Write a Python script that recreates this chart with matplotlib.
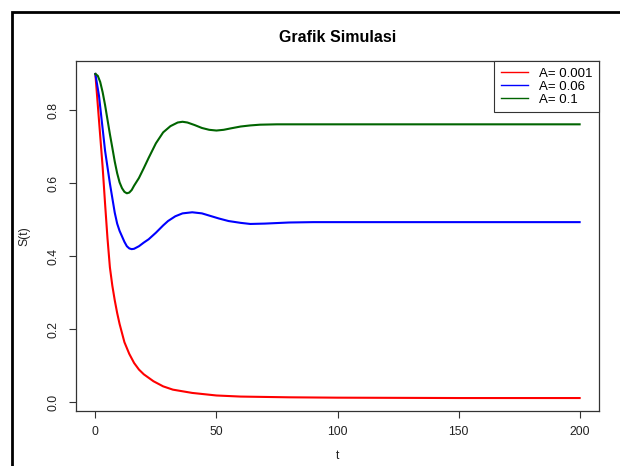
import numpy as np
import matplotlib
matplotlib.use("Agg")
import matplotlib.pyplot as plt
from matplotlib.patches import Rectangle

plt.rcParams['font.family'] = ['Liberation Sans', 'DejaVu Sans']

# values
t_red = [0, 1, 2, 3, 4, 5, 6, 7, 8, 9, 10, 12, 14, 16, 18, 20, 24, 28, 32,
         40, 50, 60, 80, 100, 150, 200]
s_red = [0.900, 0.815, 0.730, 0.645, 0.545, 0.450, 0.370, 0.320, 0.280, 0.245,
         0.215, 0.165, 0.133, 0.108, 0.090, 0.077, 0.058, 0.044, 0.035,
         0.026, 0.019, 0.016, 0.014, 0.013, 0.012, 0.012]

t_blue = [0, 1, 1.5, 2, 3, 4, 5, 6, 7, 8, 9, 10, 11, 12, 13, 14, 15, 16, 18,
          20, 22, 25, 28, 30, 33, 36, 40, 44, 48, 51, 55, 60, 64, 70, 80, 90,
          100, 150, 200]
s_blue = [0.900, 0.860, 0.840, 0.810, 0.750, 0.690, 0.645, 0.600, 0.560, 0.520,
          0.490, 0.470, 0.455, 0.440, 0.428, 0.422, 0.420, 0.421, 0.428,
          0.438, 0.447, 0.465, 0.485, 0.497, 0.510, 0.518, 0.521, 0.518, 0.510,
          0.504, 0.497, 0.492, 0.489, 0.490, 0.493, 0.494,
          0.494, 0.494, 0.494]

t_green = [0, 1, 2, 3, 4, 5, 6, 7, 8, 9, 10, 11, 12, 13, 14, 15, 16, 18, 20,
           22, 25, 28, 31, 34, 36, 38, 41, 44, 47, 50, 53, 56, 60, 64, 68, 75,
           90, 100, 150, 200]
s_green = [0.900, 0.895, 0.878, 0.850, 0.815, 0.775, 0.735, 0.698, 0.660, 0.628,
           0.603, 0.587, 0.577, 0.573, 0.575, 0.582, 0.594, 0.615, 0.642,
           0.670, 0.710, 0.740, 0.757, 0.767, 0.769, 0.767, 0.760, 0.752, 0.747,
           0.745, 0.747, 0.751, 0.756, 0.759, 0.761, 0.762,
           0.762, 0.762, 0.762, 0.762]

labels = ["A= 0.001", "A= 0.06", "A= 0.1"]
x_ticks = [0, 50, 100, 150, 200]
y_ticks = [0.0, 0.2, 0.4, 0.6, 0.8]

fig = plt.figure(figsize=(6.2, 4.66), dpi=100)
ax = fig.add_axes([76/620, 1 - 411/466, (599 - 76)/620, (411 - 61)/466])

ax.plot(t_red, s_red, color='#ff0000', lw=1.5, label=labels[0])
ax.plot(t_blue, s_blue, color='#0000ff', lw=1.5, label=labels[1])
ax.plot(t_green, s_green, color='#006400', lw=1.5, label=labels[2])

# R style 4% padding
ymin = min(s_red + s_blue + s_green)
ymax = max(s_red + s_blue + s_green)
pad = 0.04 * (ymax - ymin)
ax.set_xlim(-8, 208)
ax.set_ylim(ymin - pad, ymax + pad)

ax.set_xticks(x_ticks)
ax.set_xticklabels([str(v) for v in x_ticks])
ax.set_yticks(y_ticks)
ax.set_yticklabels(["%.1f" % v for v in y_ticks], rotation=90, va='center')
ax.tick_params(axis='both', direction='out', length=5, width=0.8,
               color='#333333', labelsize=8.7, labelcolor='#222222')
ax.tick_params(axis='x', pad=6)
ax.tick_params(axis='y', pad=7)
for sp in ax.spines.values():
    sp.set_color('#333333')
    sp.set_linewidth(0.9)

fig.text(0.5 * (76 + 599) / 620, 1 - 38/466, "Grafik Simulasi",
         ha='center', va='center', fontsize=11.5, fontweight='bold')
fig.text(0.5 * (76 + 599) / 620, 1 - 456/466, "t", ha='center', va='center',
         fontsize=8.7, color='#222222')
fig.text(24/620, 1 - 236/466, "S(t)", ha='center', va='center', rotation=90,
         fontsize=8.7, color='#222222')

leg = ax.legend(loc='upper right', bbox_to_anchor=(1.0, 1.0), borderaxespad=0,
                fancybox=False, edgecolor='#333333', framealpha=1,
                fontsize=9.5, labelspacing=0.05, handlelength=2.1,
                handletextpad=0.8, borderpad=0.5)
leg.get_frame().set_linewidth(0.8)
for line in leg.get_lines():
    line.set_linewidth(1.0)

# outer frame of the screenshot
fig.patches.append(Rectangle((11.5/620, -0.1), 1.2, 1.1 - 11.5/466,
                             transform=fig.transFigure, fill=False,
                             edgecolor='black', lw=2, clip_on=False))

fig.savefig("out.png", dpi=100)
